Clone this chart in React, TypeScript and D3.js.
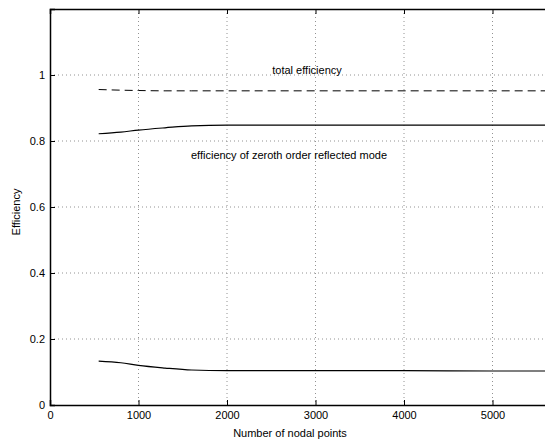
import React, { useRef, useEffect } from "react";
import * as d3 from "d3";

// nodal point counts where efficiencies were computed
const nodalPoints = [550, 800, 1000, 1300, 1600, 2000, 3000, 4000, 5000, 5600];
const totalEff = [0.956, 0.954, 0.953, 0.952, 0.952, 0.952, 0.952, 0.952, 0.952, 0.952];
const zerothEff = [0.822, 0.827, 0.833, 0.84, 0.846, 0.848, 0.848, 0.848, 0.848, 0.848];
const otherEff = [0.133, 0.128, 0.12, 0.112, 0.106, 0.104, 0.104, 0.104, 0.103, 0.103];

const xTicks = [0, 1000, 2000, 3000, 4000, 5000];
const yTicks = [0, 0.2, 0.4, 0.6, 0.8, 1];

const App = () => {
    const ref = useRef<SVGSVGElement>(null);
    const width = 545;
    const height = 442;

    useEffect(() => {
        document.body.style.margin = "0";
        const svg = d3.select(ref.current);
        svg.selectAll("*").remove();

        const left = 50, top = 9, right = 545.6, bottom = 405;
        const x = d3.scaleLinear().domain([0, 5600]).range([left, right]);
        const y = d3.scaleLinear().domain([0, 1.2]).range([bottom, top]);
        const font = "'Liberation Sans', Arial, Helvetica, sans-serif";

        // grid
        const grid = svg.append("g")
            .attr("stroke", "#777")
            .attr("stroke-width", 0.8)
            .attr("stroke-dasharray", "1,3");
        grid.selectAll("line.h").data(yTicks.slice(1)).enter().append("line")
            .attr("x1", left).attr("x2", right)
            .attr("y1", d => y(d)).attr("y2", d => y(d));
        grid.selectAll("line.v").data(xTicks.slice(1)).enter().append("line")
            .attr("x1", d => x(d)).attr("x2", d => x(d))
            .attr("y1", top).attr("y2", bottom);

        // axes
        const xaxis = d3.axisBottom(x).tickValues(xTicks).tickSize(-5).tickPadding(6)
            .tickFormat(d3.format("d"));
        const gx = svg.append("g")
            .attr("transform", "translate(0," + bottom + ")")
            .call(xaxis);
        const xTop = d3.axisTop(x).tickValues(xTicks).tickSize(-5).tickFormat(() => "");
        const gxt = svg.append("g")
            .attr("transform", "translate(0," + top + ")")
            .call(xTop);
        const yaxis = d3.axisLeft(y).tickValues(yTicks).tickSize(-5).tickPadding(5)
            .tickFormat(d => String(d));
        const gy = svg.append("g")
            .attr("transform", "translate(" + left + ",0)")
            .call(yaxis);
        [gx, gxt, gy].forEach(g => {
            g.select(".domain").attr("stroke", "#000").attr("stroke-width", 1.5);
            g.selectAll(".tick line").attr("stroke", "#000").attr("stroke-width", 1);
            g.selectAll("text").attr("font-family", font).attr("font-size", 11).attr("fill", "#000");
        });

        const line = d3.line<number>()
            .x((d, i) => x(nodalPoints[i]))
            .y(d => y(d))
            .curve(d3.curveMonotoneX);

        svg.append("path").datum(totalEff)
            .attr("d", line).attr("fill", "none")
            .attr("stroke", "#000").attr("stroke-width", 1)
            .attr("stroke-dasharray", "8,5");
        svg.append("path").datum(zerothEff)
            .attr("d", line).attr("fill", "none")
            .attr("stroke", "#000").attr("stroke-width", 1.2);
        svg.append("path").datum(otherEff)
            .attr("d", line).attr("fill", "none")
            .attr("stroke", "#000").attr("stroke-width", 1.2);

        const label = (t: string, px: number, py: number, rot = 0) =>
            svg.append("text")
                .attr("transform", `translate(${px},${py}) rotate(${rot})`)
                .attr("text-anchor", "middle")
                .attr("dominant-baseline", "middle")
                .attr("font-family", font)
                .attr("font-size", 11)
                .text(t);

        label("total efficiency", 307, 71);
        label("efficiency of zeroth order reflected mode", 289, 156);
        label("Number of nodal points", 290, 434);
        label("Efficiency", 17, 212, -90);
    }, []);

    return <svg ref={ref} width={width} height={height} style={{ display: "block", background: "#fff" }} />;
};

export default App;
